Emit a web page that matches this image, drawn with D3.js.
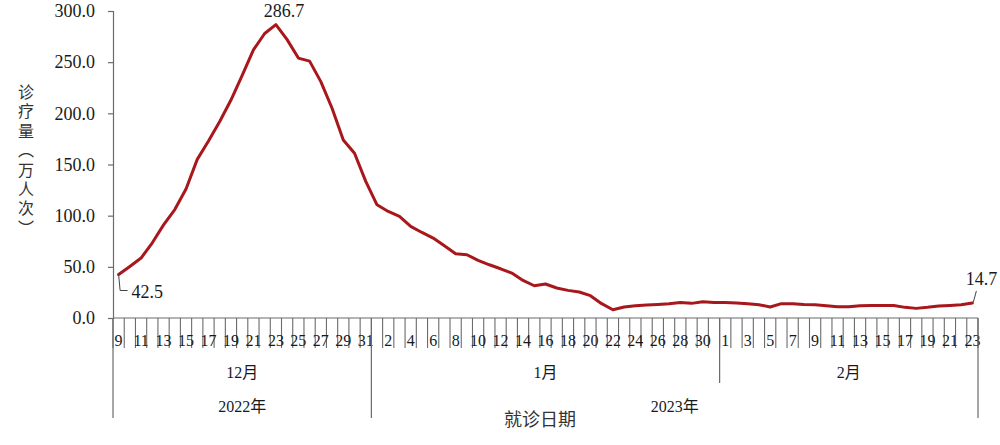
<!DOCTYPE html>
<html><head><meta charset="utf-8">
<script src="https://cdn.jsdelivr.net/npm/d3@7"></script>
<style>
html,body{margin:0;padding:0;background:#fff;}
svg{display:block;}
</style></head>
<body>
<svg id="chart" width="1000" height="445"></svg>
<script>
// ---- data ----
const decDays = [9,10,11,12,13,14,15,16,17,18,19,20,21,22,23,24,25,26,27,28,29,30,31];
const janDays = [1,2,3,4,5,6,7,8,9,10,11,12,13,14,15,16,17,18,19,20,21,22,23,24,25,26,27,28,29,30,31];
const febDays = [1,2,3,4,5,6,7,8,9,10,11,12,13,14,15,16,17,18,19,20,21,22,23];
const decValues = [42.5,50.4,58.6,73.5,91.0,106.0,126.0,155.0,173.0,192.0,213.0,237.0,262.0,278.0,286.7,272.0,254.0,251.0,231.0,205.0,174.0,161.0,133.5];
const janValues = [110.6,104.1,99.2,89.5,83.6,78.1,70.5,62.8,61.8,56.3,52.0,48.1,43.9,36.7,31.5,33.2,29.3,27.0,25.4,21.8,14.0,8.1,10.7,12.0,12.7,13.3,14.0,15.2,14.3,15.9,15.2];
const febValues = [15.2,14.6,14.0,13.0,10.7,14.0,14.0,13.3,13.0,12.0,11.0,11.0,12.0,12.3,12.3,12.3,10.4,9.4,10.4,11.7,12.3,13.0,14.7];
const monthLabels = ["12月","1月","2月"];
const yearLabels = ["2022年","2023年"];
const yTicks = [0,50,100,150,200,250,300];
const yTitle = "诊疗量（万人次）";
const xTitle = "就诊日期";

(function () {
const months = [
  {label: monthLabels[0], days: decDays, values: decValues, year: 0},
  {label: monthLabels[1], days: janDays, values: janValues, year: 1},
  {label: monthLabels[2], days: febDays, values: febValues, year: 1}
];
const data = [];
months.forEach((m, mi) => m.days.forEach((d, di) => data.push({key: mi + "-" + d, day: d, month: mi, year: m.year, value: m.values[di]})));

const svg = d3.select("#chart");
const mLeft = 113, mRight = 978, mTop = 11, mBottom = 318;
const serif = "'Liberation Serif','Times New Roman','Noto Sans CJK SC',serif";
const sansCJK = "'Noto Sans CJK SC','Noto Sans',sans-serif";
const axisColor = "#6b6b6b";

const x = d3.scaleBand().domain(data.map(d => d.key)).range([mLeft, mRight]).padding(0);
const y = d3.scaleLinear().domain([0, 300]).range([mBottom, mTop]);
const cx = d => x(d.key) + x.bandwidth() / 2;

// y axis
const yAxis = svg.append("g").attr("transform", `translate(${mLeft},0)`)
  .call(d3.axisLeft(y).tickValues(yTicks).tickSize(5).tickPadding(13).tickFormat(d3.format(".1f")));
yAxis.select(".domain").attr("stroke", axisColor).attr("stroke-width", 1.2);
yAxis.selectAll(".tick line").attr("stroke", axisColor).attr("stroke-width", 1.2);
yAxis.selectAll(".tick text").attr("font-family", serif).attr("font-size", 18).attr("fill", "#1a1a1a");

// x axis baseline
svg.append("line").attr("x1", mLeft).attr("x2", mRight).attr("y1", mBottom).attr("y2", mBottom)
  .attr("stroke", axisColor).attr("stroke-width", 1.2);

// category boundary ticks
const boundaries = data.map(d => x(d.key)).concat([mRight]);
svg.append("g").selectAll("line").data(boundaries).join("line")
  .attr("x1", d => d).attr("x2", d => d).attr("y1", mBottom).attr("y2", mBottom + 30)
  .attr("stroke", axisColor).attr("stroke-width", 1.1);

// day labels (every other)
svg.append("g").selectAll("text").data(data.filter((d, i) => i % 2 === 0)).join("text")
  .attr("x", cx).attr("y", mBottom + 28).attr("text-anchor", "middle")
  .attr("font-family", serif).attr("font-size", 16).attr("fill", "#1a1a1a")
  .text(d => d.day);

// month separators & labels
const monthStart = months.map((m, mi) => x(mi + "-" + m.days[0]));
const monthEnd = months.map((m, mi) => x(mi + "-" + m.days[m.days.length - 1]) + x.bandwidth());
const sepLines = [
  {x: monthStart[0], len: 100},
  {x: monthStart[1], len: 100},
  {x: monthStart[2], len: 65},
  {x: monthEnd[2], len: 100}
];
svg.append("g").selectAll("line").data(sepLines).join("line")
  .attr("x1", d => d.x).attr("x2", d => d.x).attr("y1", mBottom).attr("y2", d => mBottom + d.len)
  .attr("stroke", axisColor).attr("stroke-width", 1.2);

svg.append("g").selectAll("text").data(months).join("text")
  .attr("x", (m, i) => (monthStart[i] + monthEnd[i]) / 2).attr("y", mBottom + 60)
  .attr("text-anchor", "middle").attr("font-family", serif).attr("font-size", 16).attr("fill", "#1a1a1a")
  .text(m => m.label);

const yearSpans = [[monthStart[0], monthEnd[0]], [monthStart[1], monthEnd[2]]];
svg.append("g").selectAll("text").data(yearLabels).join("text")
  .attr("x", (d, i) => (yearSpans[i][0] + yearSpans[i][1]) / 2).attr("y", mBottom + 94)
  .attr("text-anchor", "middle").attr("font-family", serif).attr("font-size", 16).attr("fill", "#1a1a1a")
  .text(d => d);

// x title
svg.append("text").attr("x", 540).attr("y", 426).attr("text-anchor", "middle")
  .attr("font-family", sansCJK).attr("font-size", 18).attr("fill", "#333")
  .text(xTitle);

// y title (vertical writing)
svg.append("text")
  .attr("x", 26).attr("y", 84)
  .attr("writing-mode", "vertical-rl")
  .attr("font-family", sansCJK).attr("font-size", 16).attr("fill", "#333")
  .attr("letter-spacing", 3.4)
  .text(yTitle);

// line
const line = d3.line().x(cx).y(d => y(d.value)).curve(d3.curveLinear);
svg.append("path").datum(data).attr("d", line)
  .attr("fill", "none").attr("stroke", "#a8171b").attr("stroke-width", 3)
  .attr("stroke-linejoin", "round").attr("stroke-linecap", "round");

// annotations
const fmt = d3.format(".1f");
const first = data[0], last = data[data.length - 1];
const peak = data.reduce((a, b) => b.value > a.value ? b : a);

svg.append("text").attr("x", cx(peak) + 8).attr("y", y(peak.value) - 8).attr("text-anchor", "middle")
  .attr("font-family", serif).attr("font-size", 18).attr("fill", "#1a1a1a").text(fmt(peak.value));

svg.append("path")
  .attr("d", `M${cx(first)},${y(first.value)} L${cx(first) + 1.5},${y(first.value) + 16} L${cx(first) + 9},${y(first.value) + 16}`)
  .attr("fill", "none").attr("stroke", "#444").attr("stroke-width", 1);
svg.append("text").attr("x", cx(first) + 13).attr("y", y(first.value) + 23)
  .attr("font-family", serif).attr("font-size", 18).attr("fill", "#1a1a1a").text(fmt(first.value));

svg.append("path")
  .attr("d", `M${cx(last) + 1},${y(last.value) - 1} L${cx(last) + 4},${y(last.value) - 12}`)
  .attr("fill", "none").attr("stroke", "#444").attr("stroke-width", 1);
svg.append("text").attr("x", cx(last) + 9).attr("y", y(last.value) - 18).attr("text-anchor", "middle")
  .attr("font-family", serif).attr("font-size", 18).attr("fill", "#1a1a1a").text(fmt(last.value));
})();
</script>
</body></html>
